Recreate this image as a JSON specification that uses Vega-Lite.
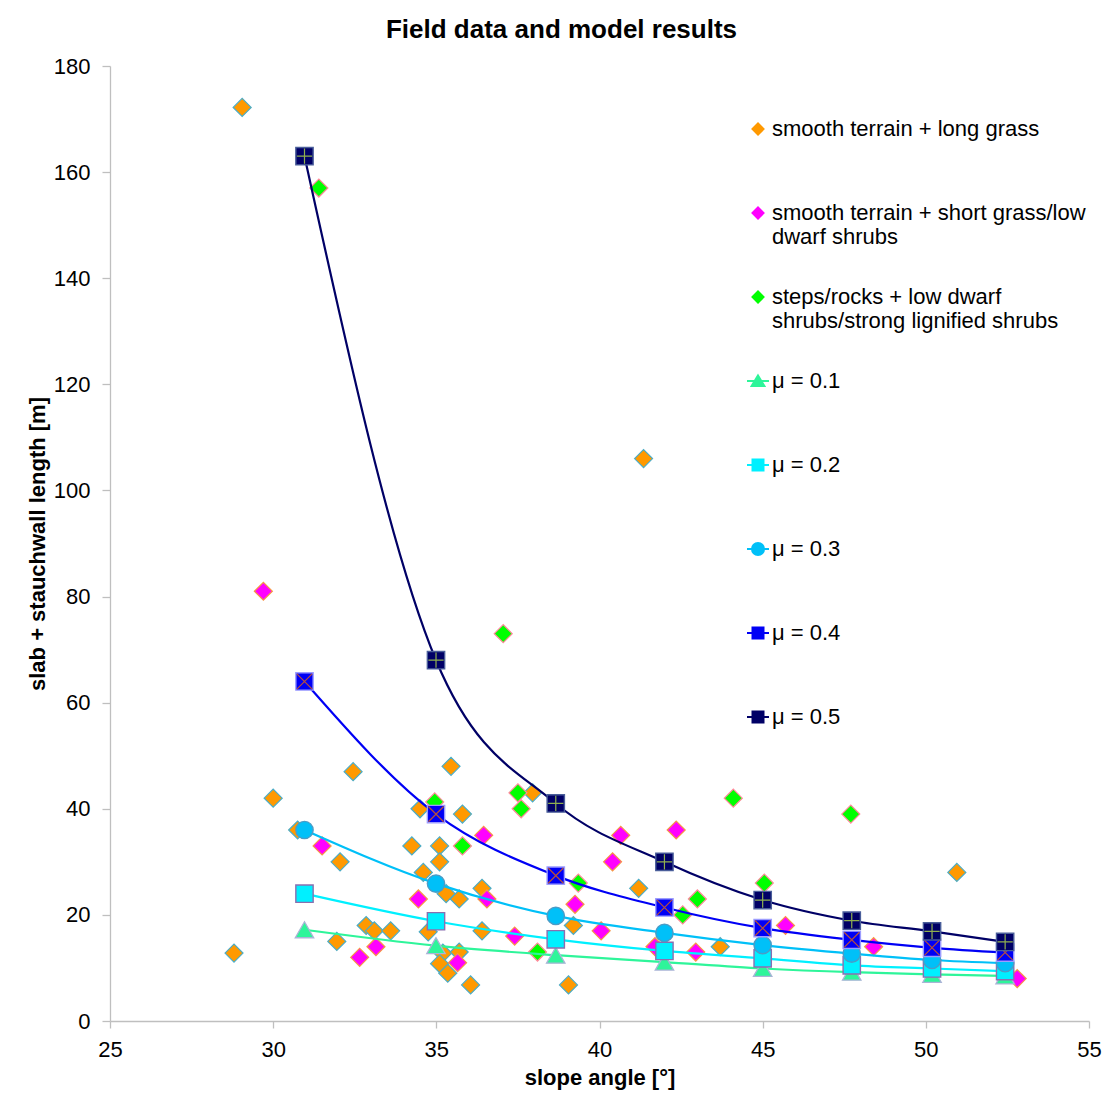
{
  "$schema": "https://vega.github.io/schema/vega-lite/v6.json",
  "width": 979,
  "height": 955,
  "autosize": {"type": "none"},
  "padding": {"left": 110, "top": 66, "right": 16, "bottom": 82},
  "background": "white",
  "title": {
    "text": "Field data and model results",
    "fontSize": 26,
    "fontWeight": "bold",
    "color": "#000000",
    "anchor": "middle",
    "dx": -38,
    "offset": 12
  },
  "config": {
    "font": "Liberation Sans",
    "view": {"stroke": null},
    "axis": {
      "grid": false,
      "labelFontSize": 22,
      "labelColor": "#000000",
      "titleFontSize": 22,
      "titleFontWeight": "bold",
      "titleColor": "#000000",
      "domainColor": "#BFBFBF",
      "tickColor": "#BFBFBF",
      "domainWidth": 1.3,
      "tickWidth": 1.3,
      "labelFlush": false,
      "labelOverlap": false
    }
  },
  "datasets": {
    "field": [
      {"series": "smooth terrain + long grass", "slope": 29.05, "length": 172.2},
      {"series": "smooth terrain + long grass", "slope": 28.8, "length": 12.8},
      {"series": "smooth terrain + long grass", "slope": 30.0, "length": 42},
      {"series": "smooth terrain + long grass", "slope": 30.75, "length": 36},
      {"series": "smooth terrain + long grass", "slope": 32.45, "length": 47},
      {"series": "smooth terrain + long grass", "slope": 32.05, "length": 30},
      {"series": "smooth terrain + long grass", "slope": 31.95, "length": 15},
      {"series": "smooth terrain + long grass", "slope": 32.85, "length": 18},
      {"series": "smooth terrain + long grass", "slope": 33.1, "length": 17},
      {"series": "smooth terrain + long grass", "slope": 33.6, "length": 17},
      {"series": "smooth terrain + long grass", "slope": 34.25, "length": 33},
      {"series": "smooth terrain + long grass", "slope": 34.5, "length": 40},
      {"series": "smooth terrain + long grass", "slope": 34.6, "length": 28},
      {"series": "smooth terrain + long grass", "slope": 34.75, "length": 16.8},
      {"series": "smooth terrain + long grass", "slope": 35.1, "length": 33},
      {"series": "smooth terrain + long grass", "slope": 35.1, "length": 30},
      {"series": "smooth terrain + long grass", "slope": 35.45, "length": 48},
      {"series": "smooth terrain + long grass", "slope": 35.8, "length": 39},
      {"series": "smooth terrain + long grass", "slope": 35.3, "length": 24},
      {"series": "smooth terrain + long grass", "slope": 35.7, "length": 23},
      {"series": "smooth terrain + long grass", "slope": 36.4, "length": 25},
      {"series": "smooth terrain + long grass", "slope": 35.2, "length": 12.8},
      {"series": "smooth terrain + long grass", "slope": 35.7, "length": 13},
      {"series": "smooth terrain + long grass", "slope": 35.1, "length": 10.8},
      {"series": "smooth terrain + long grass", "slope": 35.35, "length": 9},
      {"series": "smooth terrain + long grass", "slope": 36.05, "length": 6.8},
      {"series": "smooth terrain + long grass", "slope": 36.4, "length": 17},
      {"series": "smooth terrain + long grass", "slope": 37.95, "length": 43},
      {"series": "smooth terrain + long grass", "slope": 39.2, "length": 18},
      {"series": "smooth terrain + long grass", "slope": 39.05, "length": 6.8},
      {"series": "smooth terrain + long grass", "slope": 41.2, "length": 25},
      {"series": "smooth terrain + long grass", "slope": 41.35, "length": 106},
      {"series": "smooth terrain + long grass", "slope": 43.7, "length": 14},
      {"series": "smooth terrain + long grass", "slope": 50.95, "length": 28},
      {"series": "smooth terrain + short grass/low dwarf shrubs", "slope": 29.7, "length": 81},
      {"series": "smooth terrain + short grass/low dwarf shrubs", "slope": 31.5, "length": 33},
      {"series": "smooth terrain + short grass/low dwarf shrubs", "slope": 32.65, "length": 12},
      {"series": "smooth terrain + short grass/low dwarf shrubs", "slope": 33.15, "length": 14},
      {"series": "smooth terrain + short grass/low dwarf shrubs", "slope": 34.45, "length": 23},
      {"series": "smooth terrain + short grass/low dwarf shrubs", "slope": 36.45, "length": 35},
      {"series": "smooth terrain + short grass/low dwarf shrubs", "slope": 36.55, "length": 23},
      {"series": "smooth terrain + short grass/low dwarf shrubs", "slope": 35.65, "length": 11},
      {"series": "smooth terrain + short grass/low dwarf shrubs", "slope": 37.4, "length": 16},
      {"series": "smooth terrain + short grass/low dwarf shrubs", "slope": 39.25, "length": 22},
      {"series": "smooth terrain + short grass/low dwarf shrubs", "slope": 40.05, "length": 17},
      {"series": "smooth terrain + short grass/low dwarf shrubs", "slope": 40.4, "length": 30},
      {"series": "smooth terrain + short grass/low dwarf shrubs", "slope": 40.65, "length": 35},
      {"series": "smooth terrain + short grass/low dwarf shrubs", "slope": 41.7, "length": 14},
      {"series": "smooth terrain + short grass/low dwarf shrubs", "slope": 42.35, "length": 36},
      {"series": "smooth terrain + short grass/low dwarf shrubs", "slope": 42.95, "length": 13},
      {"series": "smooth terrain + short grass/low dwarf shrubs", "slope": 45.7, "length": 18},
      {"series": "smooth terrain + short grass/low dwarf shrubs", "slope": 48.4, "length": 14},
      {"series": "smooth terrain + short grass/low dwarf shrubs", "slope": 52.8, "length": 8},
      {"series": "steps/rocks + low dwarf shrubs/strong lignified shrubs", "slope": 31.4, "length": 157},
      {"series": "steps/rocks + low dwarf shrubs/strong lignified shrubs", "slope": 34.95, "length": 41.3},
      {"series": "steps/rocks + low dwarf shrubs/strong lignified shrubs", "slope": 35.8, "length": 33},
      {"series": "steps/rocks + low dwarf shrubs/strong lignified shrubs", "slope": 37.05, "length": 73},
      {"series": "steps/rocks + low dwarf shrubs/strong lignified shrubs", "slope": 37.5, "length": 43},
      {"series": "steps/rocks + low dwarf shrubs/strong lignified shrubs", "slope": 37.6, "length": 40},
      {"series": "steps/rocks + low dwarf shrubs/strong lignified shrubs", "slope": 38.1, "length": 13},
      {"series": "steps/rocks + low dwarf shrubs/strong lignified shrubs", "slope": 39.35, "length": 26},
      {"series": "steps/rocks + low dwarf shrubs/strong lignified shrubs", "slope": 42.55, "length": 20},
      {"series": "steps/rocks + low dwarf shrubs/strong lignified shrubs", "slope": 43.0, "length": 23},
      {"series": "steps/rocks + low dwarf shrubs/strong lignified shrubs", "slope": 44.1, "length": 42},
      {"series": "steps/rocks + low dwarf shrubs/strong lignified shrubs", "slope": 45.05, "length": 26},
      {"series": "steps/rocks + low dwarf shrubs/strong lignified shrubs", "slope": 47.7, "length": 39}
    ],
    "model": [
      {"series": "μ = 0.1", "slope": 30.96, "length": 17.2},
      {"series": "μ = 0.1", "slope": 34.99, "length": 14.2},
      {"series": "μ = 0.1", "slope": 38.66, "length": 12.4},
      {"series": "μ = 0.1", "slope": 41.99, "length": 11.1},
      {"series": "μ = 0.1", "slope": 45.0, "length": 9.9},
      {"series": "μ = 0.1", "slope": 47.73, "length": 9.2},
      {"series": "μ = 0.1", "slope": 50.19, "length": 8.8},
      {"series": "μ = 0.1", "slope": 52.43, "length": 8.5},
      {"series": "μ = 0.2", "slope": 30.96, "length": 24},
      {"series": "μ = 0.2", "slope": 34.99, "length": 18.8},
      {"series": "μ = 0.2", "slope": 38.66, "length": 15.4},
      {"series": "μ = 0.2", "slope": 41.99, "length": 13.2},
      {"series": "μ = 0.2", "slope": 45.0, "length": 11.8},
      {"series": "μ = 0.2", "slope": 47.73, "length": 10.5},
      {"series": "μ = 0.2", "slope": 50.19, "length": 9.9},
      {"series": "μ = 0.2", "slope": 52.43, "length": 9.4},
      {"series": "μ = 0.3", "slope": 30.96, "length": 36},
      {"series": "μ = 0.3", "slope": 34.99, "length": 25.9},
      {"series": "μ = 0.3", "slope": 38.66, "length": 19.8},
      {"series": "μ = 0.3", "slope": 41.99, "length": 16.6},
      {"series": "μ = 0.3", "slope": 45.0, "length": 14.3},
      {"series": "μ = 0.3", "slope": 47.73, "length": 12.7},
      {"series": "μ = 0.3", "slope": 50.19, "length": 11.5},
      {"series": "μ = 0.3", "slope": 52.43, "length": 10.9},
      {"series": "μ = 0.4", "slope": 30.96, "length": 64},
      {"series": "μ = 0.4", "slope": 34.99, "length": 39},
      {"series": "μ = 0.4", "slope": 38.66, "length": 27.4},
      {"series": "μ = 0.4", "slope": 41.99, "length": 21.4},
      {"series": "μ = 0.4", "slope": 45.0, "length": 17.5},
      {"series": "μ = 0.4", "slope": 47.73, "length": 15.3},
      {"series": "μ = 0.4", "slope": 50.19, "length": 13.8},
      {"series": "μ = 0.4", "slope": 52.43, "length": 12.9},
      {"series": "μ = 0.5", "slope": 30.96, "length": 163},
      {"series": "μ = 0.5", "slope": 34.99, "length": 68},
      {"series": "μ = 0.5", "slope": 38.66, "length": 41},
      {"series": "μ = 0.5", "slope": 41.99, "length": 30},
      {"series": "μ = 0.5", "slope": 45.0, "length": 22.8},
      {"series": "μ = 0.5", "slope": 47.73, "length": 18.9},
      {"series": "μ = 0.5", "slope": 50.19, "length": 16.9},
      {"series": "μ = 0.5", "slope": 52.43, "length": 14.9}
    ]
  },
  "encoding": {
    "x": {
      "field": "slope",
      "type": "quantitative",
      "scale": {"domain": [25, 55], "nice": false, "zero": false},
      "axis": {
        "title": "slope angle [°]",
        "values": [25, 30, 35, 40, 45, 50, 55],
        "tickSize": 7,
        "labelPadding": 11,
        "titlePadding": 7
      }
    },
    "y": {
      "field": "length",
      "type": "quantitative",
      "scale": {"domain": [0, 180], "nice": false},
      "axis": {
        "title": "slab + stauchwall length [m]",
        "values": [0, 20, 40, 60, 80, 100, 120, 140, 160, 180],
        "tickSize": 8,
        "labelPadding": 12,
        "titlePadding": 4
      }
    }
  },
  "layer": [
    {
      "data": {"name": "field"},
      "mark": {"type": "point", "filled": true, "opacity": 1, "size": 1296, "strokeWidth": 1.2},
      "encoding": {
        "color": {
          "field": "series",
          "type": "nominal",
          "scale": {
            "domain": ["smooth terrain + long grass", "smooth terrain + short grass/low dwarf shrubs", "steps/rocks + low dwarf shrubs/strong lignified shrubs", "μ = 0.1", "μ = 0.2", "μ = 0.3", "μ = 0.4", "μ = 0.5"],
            "range": ["#FF9900", "#FF00FF", "#00FF00", "#2EF59A", "#00F0FF", "#00C0F8", "#0000F5", "#000066"]
          },
          "legend": {
            "title": null,
            "orient": "none",
            "legendX": 636,
            "legendY": 21,
            "padding": 0,
            "direction": "vertical",
            "clipHeight": 84,
            "rowPadding": 0,
            "symbolSize": 484,
            "symbolStrokeWidth": 2,
            "symbolOpacity": 1,
            "labelOffset": 2,
            "labelFontSize": 22,
            "labelColor": "#000000",
            "labelLimit": 600,
            "labelBaseline": "middle",
            "labelExpr": "datum.label === 'smooth terrain + short grass/low dwarf shrubs' ? ['smooth terrain + short grass/low', 'dwarf shrubs'] : datum.label === 'steps/rocks + low dwarf shrubs/strong lignified shrubs' ? ['steps/rocks + low dwarf', 'shrubs/strong lignified shrubs'] : datum.label"
          }
        },
        "stroke": {
          "field": "series",
          "type": "nominal",
          "scale": {
            "domain": ["smooth terrain + long grass", "smooth terrain + short grass/low dwarf shrubs", "steps/rocks + low dwarf shrubs/strong lignified shrubs", "μ = 0.1", "μ = 0.2", "μ = 0.3", "μ = 0.4", "μ = 0.5"],
            "range": ["#4BACC6", "#F79646", "#FF8A9A", "#2EF59A", "#00F0FF", "#00C0F8", "#0000F5", "#000066"]
          }
        },
        "shape": {
          "field": "series",
          "type": "nominal",
          "scale": {
            "domain": ["smooth terrain + long grass", "smooth terrain + short grass/low dwarf shrubs", "steps/rocks + low dwarf shrubs/strong lignified shrubs", "μ = 0.1", "μ = 0.2", "μ = 0.3", "μ = 0.4", "μ = 0.5"],
            "range": [
              "M-0.5,0L0,-0.5L0.5,0L0,0.5Z",
              "M-0.5,0L0,-0.5L0.5,0L0,0.5Z",
              "M-0.5,0L0,-0.5L0.5,0L0,0.5Z",
              "M-1,0H1M0,-0.5L0.58,0.45L-0.58,0.45Z",
              "M-1,0H1M-0.5,-0.5H0.5V0.5H-0.5Z",
              "M-1,0H1M-0.55,0A0.55,0.55 0 1,0 0.55,0A0.55,0.55 0 1,0 -0.55,0Z",
              "M-1,0H1M-0.5,-0.5H0.5V0.5H-0.5Z",
              "M-1,0H1M-0.5,-0.5H0.5V0.5H-0.5Z"
            ]
          }
        }
      }
    },
    {
      "data": {"name": "model"},
      "mark": {"type": "line", "interpolate": "monotone", "strokeWidth": 2.2},
      "encoding": {
        "color": {"field": "series", "type": "nominal", "legend": null}
      }
    },
    {
      "data": {"name": "model"},
      "transform": [{"filter": {"field": "series", "equal": "μ = 0.1"}}],
      "mark": {"type": "point", "shape": "triangle-up", "filled": true, "opacity": 1, "size": 340, "stroke": "#A9B4D6", "strokeWidth": 1.3},
      "encoding": {"color": {"field": "series", "type": "nominal", "legend": null}}
    },
    {
      "data": {"name": "model"},
      "transform": [{"filter": {"field": "series", "equal": "μ = 0.2"}}],
      "mark": {"type": "point", "shape": "square", "filled": true, "opacity": 1, "size": 300, "stroke": "#8A6FB0", "strokeWidth": 1.4},
      "encoding": {"color": {"field": "series", "type": "nominal", "legend": null}}
    },
    {
      "data": {"name": "model"},
      "transform": [{"filter": {"field": "series", "equal": "μ = 0.3"}}],
      "mark": {"type": "point", "shape": "circle", "filled": true, "opacity": 1, "size": 300, "stroke": "#4B9CC6", "strokeWidth": 1.4},
      "encoding": {"color": {"field": "series", "type": "nominal", "legend": null}}
    },
    {
      "data": {"name": "model"},
      "transform": [{"filter": {"field": "series", "equal": "μ = 0.4"}}],
      "mark": {"type": "point", "shape": "square", "filled": true, "opacity": 1, "size": 300, "stroke": "#9C9CFF", "strokeWidth": 1.4},
      "encoding": {"color": {"field": "series", "type": "nominal", "legend": null}}
    },
    {
      "data": {"name": "model"},
      "transform": [{"filter": {"field": "series", "equal": "μ = 0.4"}}],
      "mark": {"type": "point", "shape": "M-0.88,-0.88L0.88,0.88M-0.88,0.88L0.88,-0.88", "filled": false, "opacity": 1, "size": 300, "stroke": "#B8503A", "strokeWidth": 1.2}
    },
    {
      "data": {"name": "model"},
      "transform": [{"filter": {"field": "series", "equal": "μ = 0.5"}}],
      "mark": {"type": "point", "shape": "square", "filled": true, "opacity": 1, "size": 300, "stroke": "#4A5E9A", "strokeWidth": 1.4},
      "encoding": {"color": {"field": "series", "type": "nominal", "legend": null}}
    },
    {
      "data": {"name": "model"},
      "transform": [{"filter": {"field": "series", "equal": "μ = 0.5"}}],
      "mark": {"type": "point", "shape": "M0,-0.88V0.88M-0.88,0H0.88", "filled": false, "opacity": 1, "size": 300, "stroke": "#8FAF4F", "strokeWidth": 1.2}
    }
  ]
}
